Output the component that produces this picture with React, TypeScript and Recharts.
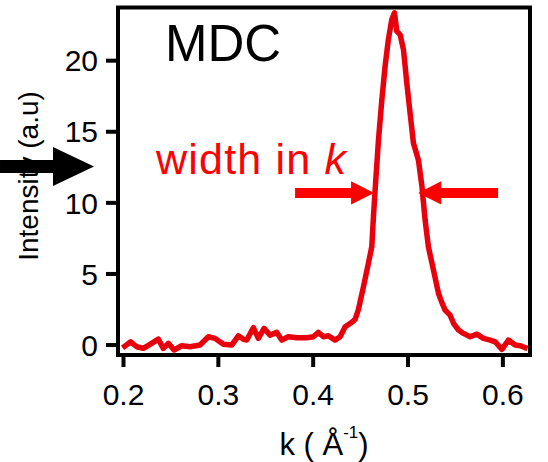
import { Line, LineChart, ReferenceArea, ReferenceDot, ReferenceLine, XAxis, YAxis } from "recharts"

// momentum distribution curve, k in 1/Å
const k = [
  0.199, 0.2076, 0.2139, 0.2209, 0.228, 0.2367, 0.242, 0.2473, 0.2533, 0.2614,
  0.2701, 0.2807, 0.2895, 0.2965, 0.3053, 0.3141, 0.3211, 0.3265, 0.33, 0.3369,
  0.3422, 0.3482, 0.3545, 0.3616, 0.3669, 0.3738, 0.3827, 0.3932, 0.4002, 0.4055,
  0.4108, 0.416, 0.4231, 0.4284, 0.4337, 0.4407, 0.4442, 0.4477, 0.453, 0.4582,
  0.4618, 0.4635, 0.4653, 0.4688, 0.4724, 0.4758, 0.4793, 0.4829, 0.4857, 0.4882,
  0.4917, 0.4952, 0.4987, 0.5022, 0.5057, 0.511, 0.5146, 0.518, 0.5215, 0.5268,
  0.5321, 0.5356, 0.5391, 0.5444, 0.5479, 0.5532, 0.5584, 0.5655, 0.5726, 0.5795,
  0.5866, 0.5919, 0.599, 0.6059, 0.613, 0.6185, 0.626,
]
const intensity = [
  -0.2, 0.23, -0.12, -0.23, 0.05, 0.42, -0.23, 0.12, -0.35, -0.05,
  -0.12, 0.0, 0.58, 0.47, 0.05, 0.0, 0.65, 0.4, 0.35, 1.22,
  0.47, 1.17, 0.7, 0.89, 0.35, 0.58, 0.51, 0.51, 0.58, 0.89,
  0.58, 0.65, 0.35, 0.58, 1.29, 1.6, 1.8, 2.5, 4.1, 5.75,
  6.92, 9.0, 10.9, 14.4, 17.25, 19.6, 21.5, 22.9, 23.36, 22.06,
  21.83, 20.77, 18.43, 16.3, 14.2, 13.0, 11.2, 8.8, 6.9, 5.28,
  3.64, 3.0, 2.46, 2.1, 1.53, 1.06, 0.82, 0.58, 0.77, 0.47,
  0.35, 0.23, -0.3, 0.35, 0.0, -0.05, -0.25,
]
const xTicks = [0.2, 0.3, 0.4, 0.5, 0.6]
const yTicks = [0, 5, 10, 15, 20]

const data = k.map((v, i) => ({ k: v, intensity: intensity[i] }))

const X_DOMAIN: [number, number] = [0.1942, 0.6286]
const Y_DOMAIN: [number, number] = [-0.7, 23.74]
const FONT = "'Liberation Sans', Arial, sans-serif"
const RED = "#ff0000"

// horizontal block arrow from (x1,y1) to the tip at (x2,y1)
function arrowShape(shaft: number, headLen: number, headHalf: number, color: string) {
  return (p: any) => {
    const { x1, y1, x2 } = p
    const dir = x2 > x1 ? 1 : -1
    const xb = x2 - dir * headLen
    const pts = [
      [x1, y1 - shaft / 2],
      [xb, y1 - shaft / 2],
      [xb, y1 - headHalf],
      [x2, y1],
      [xb, y1 + headHalf],
      [xb, y1 + shaft / 2],
      [x1, y1 + shaft / 2],
    ]
      .map((q) => q.join(","))
      .join(" ")
    return <polygon points={pts} fill={color} />
  }
}

const YLabel = () => (
  <text
    x={38}
    y={176}
    transform="rotate(-90, 38, 176)"
    textAnchor="middle"
    fontFamily={FONT}
    fontSize={28}
    fill="#000"
  >
    Intensity (a.u)
  </text>
)

const XLabel = (props: any) => {
  const vb = props.viewBox ?? { x: 118, y: 355, width: 412 }
  const cx = vb.x + vb.width / 2
  return (
    <text x={cx} y={455} textAnchor="middle" fontFamily={FONT} fontSize={31} fill="#000">
      k ( Å
      <tspan dy={-17} fontSize={17}>
        -1
      </tspan>
      <tspan dy={17}>)</tspan>
    </text>
  )
}

export default function App() {
  return (
    <div style={{ position: "absolute", left: 0, top: 0, width: 548, height: 462, background: "#fff" }}>
      <LineChart width={548} height={462} data={data} margin={{ top: 7.5, right: 18, bottom: 0, left: 0 }}>
        <XAxis
          dataKey="k"
          type="number"
          domain={X_DOMAIN}
          allowDataOverflow
          ticks={xTicks}
          tickFormatter={(v: number) => v.toFixed(1)}
          axisLine={false}
          tickLine={{ stroke: "#000", strokeWidth: 4 }}
          tickSize={12}
          tickMargin={17}
          height={107}
          tick={{ fill: "#000", fontSize: 30, fontFamily: FONT }}
          label={XLabel}
        />
        <YAxis
          type="number"
          domain={Y_DOMAIN}
          allowDataOverflow
          ticks={yTicks}
          axisLine={false}
          tickLine={{ stroke: "#000", strokeWidth: 4 }}
          tickSize={12}
          tickMargin={8}
          width={118}
          tick={{ fill: "#000", fontSize: 30, fontFamily: FONT }}
          label={YLabel}
        />
        <ReferenceArea
          x1={X_DOMAIN[0]}
          x2={X_DOMAIN[1]}
          y1={Y_DOMAIN[0]}
          y2={Y_DOMAIN[1]}
          fill="none"
          stroke="#000"
          strokeWidth={4}
          ifOverflow="visible"
        />
        <Line
          type="linear"
          dataKey="intensity"
          stroke="#e8000d"
          strokeWidth={5.5}
          strokeLinejoin="round"
          dot={false}
          isAnimationActive={false}
        />
        <ReferenceDot
          x={0.2438}
          y={20}
          r={0}
          ifOverflow="visible"
          shape={(p: any) => (
            <text x={p.cx} y={p.cy} fontFamily={FONT} fontSize={51} fill="#000">
              MDC
            </text>
          )}
        />
        <ReferenceDot
          x={0.2343}
          y={12.03}
          r={0}
          ifOverflow="visible"
          shape={(p: any) => (
            <text x={p.cx} y={p.cy} fontFamily={FONT} fontSize={43} letterSpacing={1.2} fill={RED}>
              width in <tspan fontStyle="italic">k</tspan>
            </text>
          )}
        />
        <ReferenceLine
          segment={[{ x: 0.3809, y: 10.7 }, { x: 0.4642, y: 10.7 }]}
          ifOverflow="visible"
          shape={arrowShape(10, 23, 11.7, RED)}
        />
        <ReferenceLine
          segment={[{ x: 0.595, y: 10.7 }, { x: 0.5107, y: 10.7 }]}
          ifOverflow="visible"
          shape={arrowShape(10, 23, 11.7, RED)}
        />
        <ReferenceLine
          segment={[{ x: 0.0698, y: 12.56 }, { x: 0.1689, y: 12.56 }]}
          ifOverflow="visible"
          shape={arrowShape(13, 41, 19.5, "#000")}
        />
      </LineChart>
    </div>
  )
}
